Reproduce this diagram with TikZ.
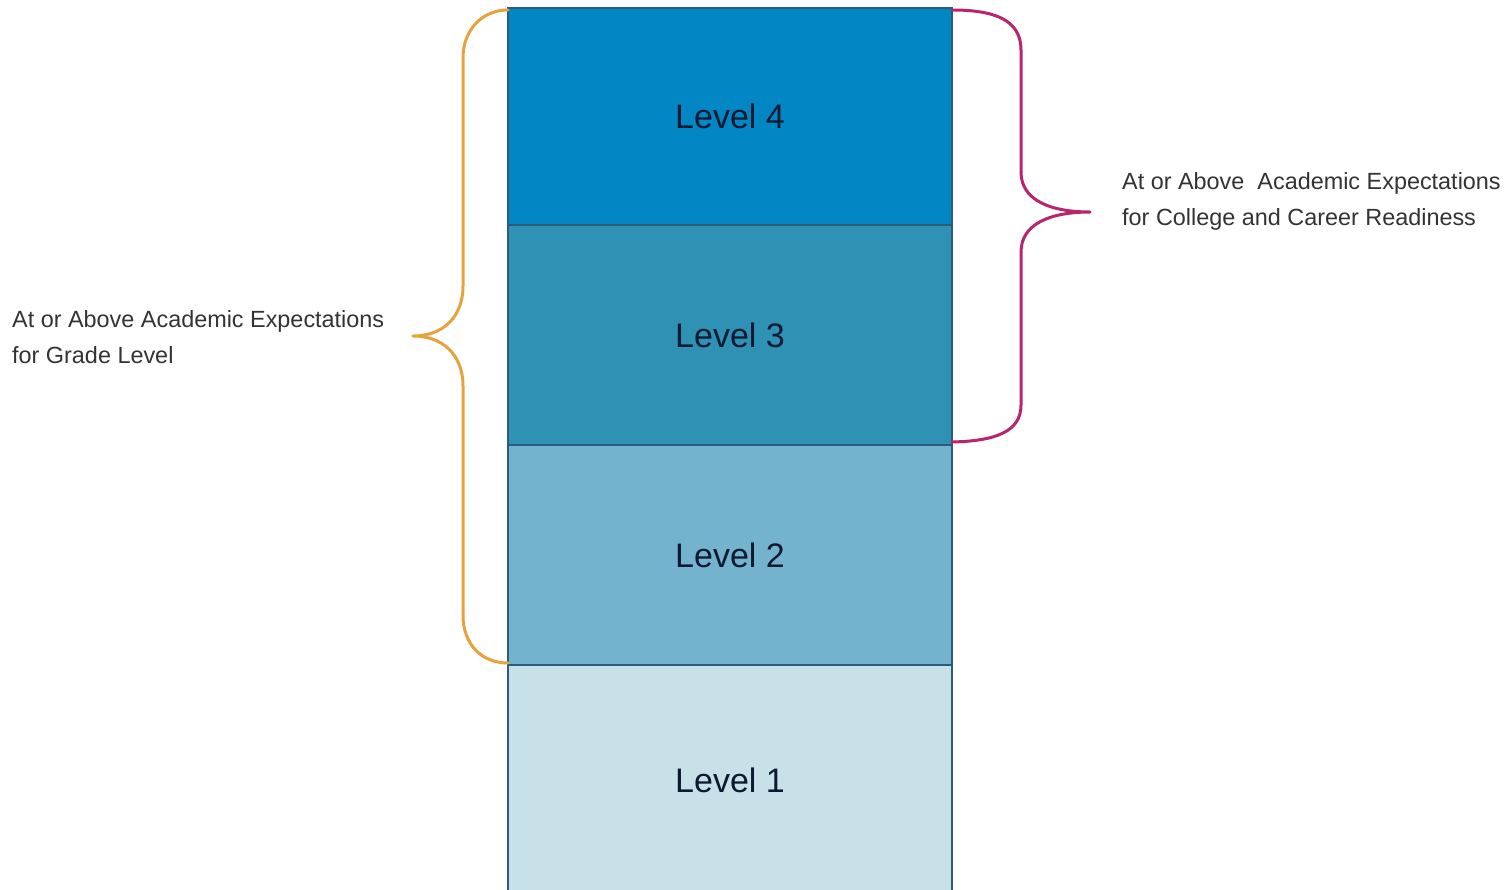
\documentclass[tikz,border=0pt]{standalone}
\usepackage{fontspec}
\setmainfont{Liberation Sans}
\definecolor{cfour}{HTML}{0386C4}
\definecolor{cthree}{HTML}{2F91B4}
\definecolor{ctwo}{HTML}{74B3CE}
\definecolor{cone}{HTML}{C8E1E8}
\definecolor{edgeblue}{HTML}{2D5B7C}
\definecolor{bracegold}{HTML}{E8A23C}
\definecolor{bracepink}{HTML}{B8246E}
\definecolor{levtext}{HTML}{0B1A30}
\definecolor{labtext}{HTML}{333333}
\begin{document}
\begin{tikzpicture}[x=1pt,y=-1pt,
  levelbox/.style={draw=edgeblue, line width=2pt, minimum width=444pt, inner sep=0pt, outer sep=0pt, text=levtext, font=\fontsize{34}{40}\selectfont},
  brace/.style={line width=3pt, line cap=round, line join=round},
  lab/.style={anchor=north west, align=left, inner sep=0pt, text=labtext, font=\fontsize{23.4}{36}\selectfont}]
\useasboundingbox (0,0) rectangle (1511,889);
\fill[white] (0,0) rectangle (1511,889);
\begin{scope}
\clip (0,0) rectangle (1511,889);
\node[levelbox, fill=cone, minimum height=230pt] (l1) at (730,780) {Level 1};
\end{scope}
\node[levelbox, fill=ctwo, minimum height=220pt] (l2) at (730,555) {Level 2};
\node[levelbox, fill=cthree, minimum height=220pt] (l3) at (730,335) {Level 3};
\node[levelbox, fill=cfour, minimum height=217pt] (l4) at (730,116.5) {Level 4};
\coordinate (ltip) at (413,336);
\coordinate (rtip) at (1090,212);
\draw[brace, bracegold] ([yshift=-2pt]l4.north west) .. controls (482,10) and (463,30) .. (463,58)
  -- (463,286) .. controls (463,318) and (442,336) .. (ltip)
  .. controls (442,336) and (463,354) .. (463,386)
  -- (463,615) .. controls (463,645) and (482,663) .. ([yshift=2pt]l2.south west);
\draw[brace, bracepink] ([yshift=-2pt]l4.north east) .. controls (995,10) and (1021,20) .. (1021,50)
  -- (1021,172) .. controls (1021,200) and (1050,212) .. (rtip)
  .. controls (1050,212) and (1021,224) .. (1021,252)
  -- (1021,405) .. controls (1021,432) and (995,441) .. ([yshift=3pt]l3.south east);
\node[lab] (gradelab) at (12,310) {At or Above Academic Expectations\\for Grade Level};
\node[lab] (ccrlab) at (1122,172) {At or Above\ \ Academic Expectations\\for College and Career Readiness};
\end{tikzpicture}
\end{document}
